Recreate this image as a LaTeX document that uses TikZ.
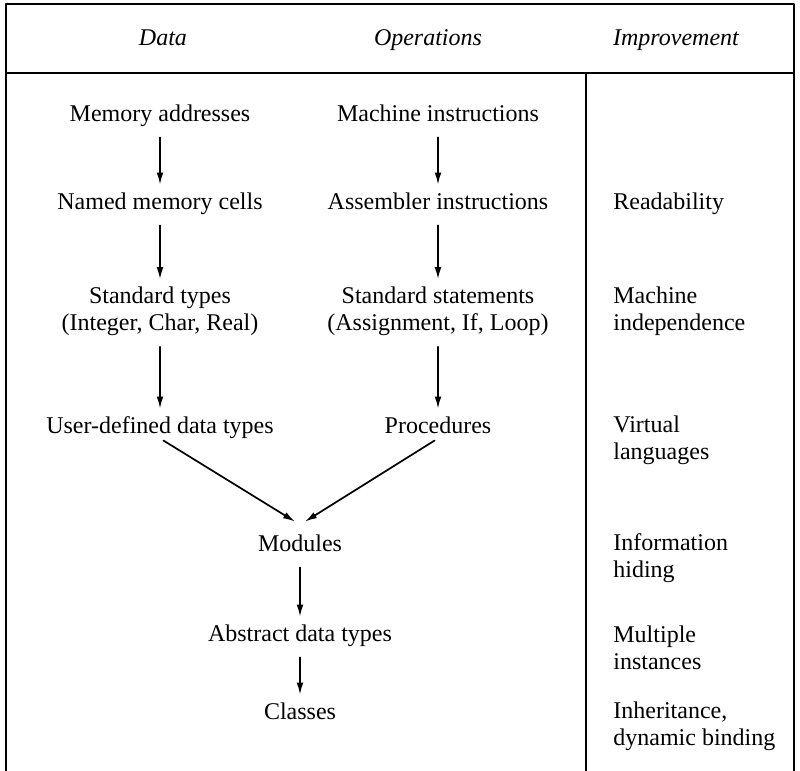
\documentclass[tikz,border=0pt]{standalone}
\usepackage{fontspec}
\setmainfont{Liberation Serif}
\usetikzlibrary{arrows.meta}

\begin{document}
\begin{tikzpicture}[x=0.5pt,y=-0.5pt,line cap=round,line join=round,>={Latex[length=6pt,width=3.4pt]},
  every node/.style={font=\fontsize{12}{13.5}\selectfont,inner sep=0pt,align=center},
  head/.style={font=\fontsize{12}{13.5}\selectfont\itshape,text height=8.5pt,text depth=2.5pt},
  one/.style={text height=8.5pt,text depth=2.5pt},
  gain/.style={anchor=west,align=left},
  flow/.style={->,line width=0.85pt,shorten <=5.5pt,shorten >=3.5pt}]
\useasboundingbox (0,0) rectangle (800,771);
% frame
\draw[line width=1.2pt] (6,771) -- (6,4) -- (794,4) -- (794,771);
\draw[line width=1.2pt] (6,73) -- (794,73);
\draw[line width=1.2pt] (586,73) -- (586,771);
% column heads
\node[head] (hdata) at (163,40) {Data};
\node[head] (hops) at (428,40) {Operations};
\node[head] (himp) at (676,40) {Improvement};
% data column
\node[one] (addr) at (160,115) {Memory addresses};
\node[one] (cells) at (160,203) {Named memory cells};
\node (stypes) at (160,311) {Standard types\\(Integer, Char, Real)};
\node[one] (udt) at (160,427) {User-defined data types};
% operations column
\node[one] (mach) at (438,115) {Machine instructions};
\node[one] (asm) at (438,203) {Assembler instructions};
\node (sstmt) at (438,311) {Standard statements\\(Assignment, If, Loop)};
\node[one] (proc) at (438,427) {Procedures};
% joined
\node[one] (mods) at (300,545) {Modules};
\node[one] (adt) at (300,635) {Abstract data types};
\node[one] (cls) at (300,713) {Classes};
% improvements
\node[gain,one] (read) at (613,203) {Readability};
\node[gain] (indep) at (613,311) {Machine\\independence};
\node[gain] (virt) at (613,440) {Virtual\\languages};
\node[gain] (hide) at (613,558) {Information\\hiding};
\node[gain] (inst) at (613,648) {Multiple\\instances};
\node[gain] (inh) at (613,726) {Inheritance,\\dynamic binding};
% arrows
\draw[flow] (addr) -- (cells);
\draw[flow] (cells) -- (stypes);
\draw[flow] (stypes) -- (udt);
\draw[flow] (mach) -- (asm);
\draw[flow] (asm) -- (sstmt);
\draw[flow] (sstmt) -- (proc);
\draw[flow,shorten <=2pt,shorten >=0pt] (udt.south) -- ([xshift=-2.5pt,yshift=6pt]mods.north);
\draw[flow,shorten <=2pt,shorten >=0pt] (proc.south) -- ([xshift=2.5pt,yshift=6pt]mods.north);
\draw[flow] (mods) -- (adt);
\draw[flow] (adt) -- (cls);
\end{tikzpicture}
\end{document}
